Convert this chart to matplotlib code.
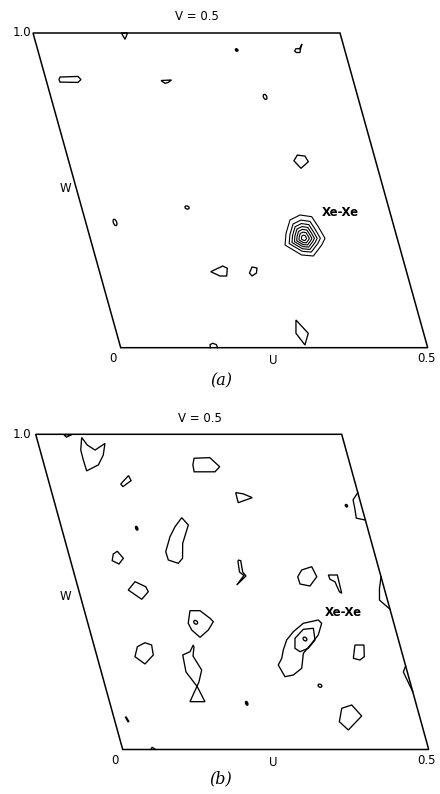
import matplotlib
matplotlib.use("Agg")
import matplotlib.pyplot as plt
from matplotlib.patches import Polygon, Ellipse
from matplotlib.transforms import Affine2D

# contour outlines, fractional cell coordinates (u, w)
contornos_a = [
    [(0.144, 1.0), (0.154, 1.0), (0.147, 0.98)],
    [(0.418, 0.943), (0.421, 0.950), (0.427, 0.950), (0.433, 0.965), (0.428, 0.948), (0.426, 0.938), (0.420, 0.938)],
    [(0.024, 0.860), (0.0536, 0.862), (0.057, 0.852), (0.0508, 0.843), (0.0217, 0.844), (0.0212, 0.852)],
    [(0.187, 0.849), (0.2042, 0.8507), (0.1974, 0.8427), (0.1922, 0.8402), (0.1894, 0.8443)],
    [(0.375, 0.612), (0.387, 0.609), (0.390, 0.591), (0.375, 0.570), (0.367, 0.594)],
    [(0.1811, 0.2415), (0.2033, 0.2596), (0.2096, 0.2523), (0.2052, 0.2278), (0.1943, 0.2278)],
    [(0.2505, 0.2564), (0.2581, 0.2533), (0.255, 0.2374), (0.2464, 0.2278), (0.2436, 0.2374)],
    [(0.298, 0.088), (0.312, 0.0458), (0.3013, 0.0086), (0.292, 0.0458)],
]
abiertos_a = [
    [(0.146, 0.0), (0.147, 0.010), (0.152, 0.014), (0.157, 0.010), (0.158, 0.0)],
]
# small peaks: u, w, half-width u, half-height w, filled
puntos_a = [
    (0.324, 0.946, 0.002, 0.004, True),
    (0.349, 0.797, 0.0028, 0.008, False),
    (0.1717, 0.4455, 0.0033, 0.005, False),
    (0.0476, 0.398, 0.0028, 0.010, False),
]
# Xe-Xe peak in (a): outer contour + relative sizes of inner contours
xe_centro_a = (0.348, 0.348)
xe_exterior_a = [(0.3337, 0.4058), (0.3523, 0.4217), (0.3705, 0.4163), (0.3767, 0.3845), (0.3824, 0.3476),
                 (0.374, 0.3263), (0.3554, 0.2914), (0.3368, 0.2946), (0.3254, 0.3105), (0.3142, 0.3263),
                 (0.3212, 0.3635)]
xe_niveles_a = [1.0, 0.78, 0.63, 0.50, 0.38, 0.26, 0.13]

contornos_b = [
    [(0.046, 0.998), (0.059, 0.999), (0.049, 0.991)],
    [(0.0737, 0.990), (0.0794, 0.966), (0.0899, 0.950), (0.109, 0.971), (0.101, 0.934), (0.0886, 0.903),
     (0.0668, 0.884), (0.0662, 0.918), (0.0665, 0.950)],
    [(0.133, 0.869), (0.135, 0.853), (0.119, 0.834), (0.1165, 0.842)],
    [(0.248, 0.924), (0.274, 0.926), (0.286, 0.897), (0.276, 0.881), (0.242, 0.881), (0.243, 0.903)],
    [(0.3005, 0.815), (0.3124, 0.811), (0.3253, 0.799), (0.300, 0.783)],
    [(0.201, 0.7354), (0.2085, 0.7123), (0.191, 0.654), (0.184, 0.6066), (0.1748, 0.5907), (0.160, 0.6012),
     (0.1595, 0.6275), (0.1732, 0.675), (0.186, 0.7069)],
    [(0.0727, 0.620), (0.0806, 0.629), (0.0873, 0.6066), (0.0776, 0.5885), (0.068, 0.599)],
    [(0.2743, 0.601), (0.278, 0.599), (0.2761, 0.563), (0.2797, 0.5505), (0.2605, 0.522), (0.2766, 0.552),
     (0.2709, 0.563), (0.273, 0.595)],
    [(0.3734, 0.5695), (0.3913, 0.580), (0.395, 0.548), (0.3797, 0.5187), (0.3644, 0.525), (0.3639, 0.548)],
    [(0.4147, 0.5536), (0.4294, 0.5536), (0.4283, 0.4956), (0.4252, 0.5006), (0.4225, 0.532), (0.4155, 0.540)],
    [(0.0958, 0.5324), (0.111, 0.5165), (0.113, 0.5006), (0.0989, 0.4765), (0.081, 0.506)],
    [(0.1725, 0.4404), (0.1889, 0.4404), (0.2018, 0.4162), (0.2057, 0.4055), (0.1938, 0.3791), (0.177, 0.3559),
     (0.1667, 0.3791), (0.164, 0.4004)],
    [(0.4266, 0.3315), (0.4413, 0.3315), (0.4366, 0.2944), (0.428, 0.284), (0.418, 0.2893)],
    [(0.0703, 0.3261), (0.0846, 0.3388), (0.0944, 0.3315), (0.0926, 0.2998), (0.075, 0.2713), (0.0619, 0.2944)],
    [(0.1624, 0.3315), (0.1541, 0.3103), (0.1407, 0.2998), (0.1384, 0.2459), (0.1502, 0.1992), (0.156, 0.1517),
     (0.1315, 0.1517), (0.155, 0.2141), (0.1649, 0.2522), (0.157, 0.2966), (0.1627, 0.3252)],
    [(0.3765, 0.1307), (0.3943, 0.1412), (0.4056, 0.1063), (0.3775, 0.0619), (0.3665, 0.0882)],
    [(0.0202, 0.104), (0.0229, 0.0882), (0.0212, 0.0882), (0.019, 0.102)],
    # Xe-Xe
    [(0.378, 0.4108), (0.382, 0.4004), (0.3712, 0.3633), (0.3567, 0.3369), (0.3386, 0.3052), (0.3291, 0.2576),
     (0.3124, 0.2364), (0.298, 0.231), (0.2923, 0.268), (0.301, 0.2893), (0.3073, 0.3157), (0.3173, 0.3474),
     (0.3319, 0.3737), (0.352, 0.4004)],
    [(0.3317, 0.3528), (0.3493, 0.3813), (0.3662, 0.3845), (0.3636, 0.3474), (0.3489, 0.3211), (0.3338, 0.3103),
     (0.3271, 0.3211)],
]
abiertos_b = [
    [(0.5, 0.815), (0.489, 0.792), (0.488, 0.765), (0.486, 0.734), (0.5, 0.728)],
    [(0.5, 0.548), (0.492, 0.510), (0.487, 0.474), (0.5, 0.445)],
    [(0.5, 0.265), (0.4935, 0.2459), (0.5, 0.1834)],
    [(0.046, 0.0), (0.049, 0.007), (0.054, 0.0)],
]
puntos_b = [
    (0.4755, 0.7735, 0.0018, 0.004, True),
    (0.1227, 0.702, 0.0018, 0.006, True),
    (0.2235, 0.1466, 0.0018, 0.006, True),
    (0.3511, 0.2024, 0.003, 0.005, False),
    (0.1766, 0.4036, 0.003, 0.006, False),
    (0.3477, 0.3506, 0.003, 0.006, False),
]

fig = plt.figure(figsize=(4.4, 7.94), dpi=100)
ax = fig.add_axes([0, 0, 1, 1])
ax.set_xlim(0, 440)
ax.set_ylim(794, 0)
ax.axis("off")

lw = 0.95


def dibujar_panel(tf, contornos, abiertos, puntos):
    celda = Polygon([(0, 0), (0.5, 0), (0.5, 1), (0, 1)], closed=True, fill=False,
                    lw=1.1, ec="black", transform=tf)
    ax.add_patch(celda)
    for c in contornos:
        ax.add_patch(Polygon(c, closed=True, fill=False, lw=lw, ec="black", transform=tf))
    for c in abiertos:
        us, ws = zip(*c)
        ax.plot(us, ws, color="black", lw=lw, transform=tf)
    for u, w, du, dw, lleno in puntos:
        ax.add_patch(Ellipse((u, w), 2 * du, 2 * dw, fill=lleno, fc="black", ec="black",
                             lw=lw, transform=tf))


# panel (a)
tf_a = Affine2D().from_values(614, 0, -87.7, -314.7, 120.7, 347.7) + ax.transData
dibujar_panel(tf_a, contornos_a, abiertos_a, puntos_a)
cu, cw = xe_centro_a
for s in xe_niveles_a:
    anillo = [(cu + s * (u - cu), cw + s * (w - cw)) for u, w in xe_exterior_a]
    ax.add_patch(Polygon(anillo, closed=True, fill=False, lw=0.8, ec="black", transform=tf_a))

# panel (b)
tf_b = Affine2D().from_values(612, 0, -87.0, -315.2, 122.7, 749.5) + ax.transData
dibujar_panel(tf_b, contornos_b, abiertos_b, puntos_b)

# textos
fs = 8.5
for dy, etiqueta in [(0, "(a)"), (402, "(b)")]:
    ax.text(197 + (3 if dy else 0), 17 + dy, "V = 0.5", fontsize=fs, ha="center", va="center")
    ax.text(22, 32 + dy, "1.0", fontsize=fs, ha="center", va="center")
    ax.text(65, 188 + dy + (7 if dy else 0), "W", fontsize=fs, ha="center", va="center")
    ax.text(113 + (2 if dy else 0), 358 + dy, "0", fontsize=fs, ha="center", va="center")
    ax.text(273, 360 + dy, "U", fontsize=fs, ha="center", va="center")
    ax.text(426, 358 + dy, "0.5", fontsize=fs, ha="center", va="center")
    ax.text(221, 381 + dy - (4 if dy else 0), etiqueta, fontsize=11.5, ha="center", va="center",
            family="DejaVu Serif", style="italic")

ax.text(340, 213, "Xe-Xe", fontsize=8.5, fontweight="bold", ha="center", va="center")
ax.text(343, 612, "Xe-Xe", fontsize=8.5, fontweight="bold", ha="center", va="center")

fig.savefig("out.png", dpi=100)
